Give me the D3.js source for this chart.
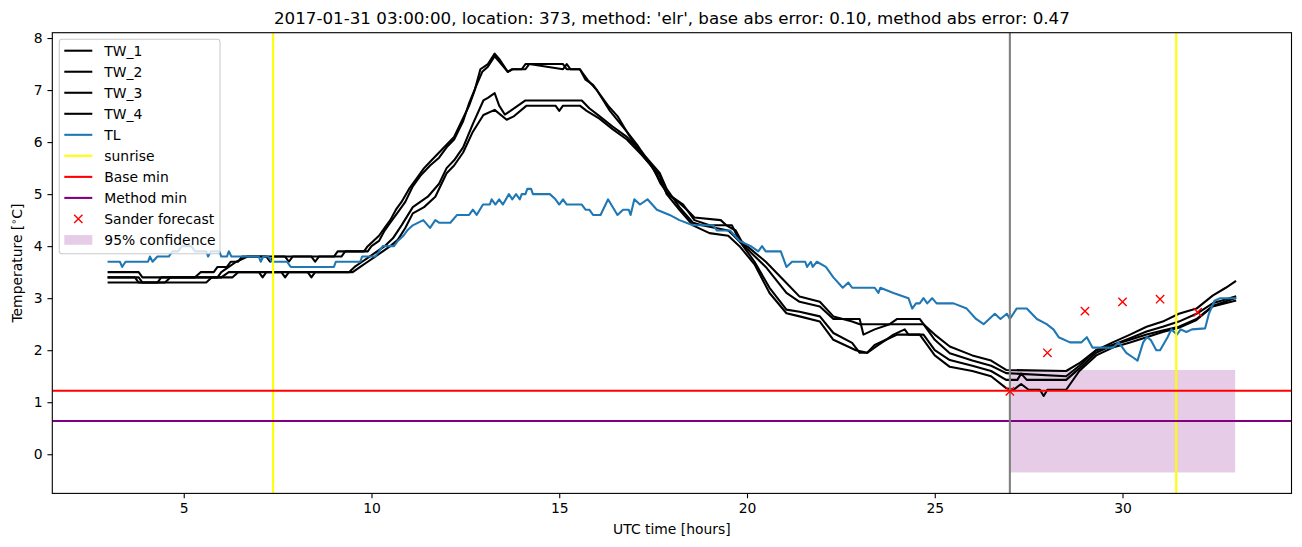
<!DOCTYPE html>
<html>
<head>
<meta charset="utf-8">
<script src="https://cdn.jsdelivr.net/npm/d3@7"></script>
<style>
  html, body { margin: 0; padding: 0; background: #fff; }
  svg { display: block; font-family: "DejaVu Sans", sans-serif; }
</style>
</head>
<body>
<svg id="chart" width="1302" height="547"></svg>
<script>
// ---------------- data (hours UTC, temperature °C) ----------------
const tw1 = [[3,3.5],[3.8,3.5],[3.9,3.4],[5.3,3.4],[5.45,3.5],[5.8,3.5],[5.9,3.6],[6.15,3.6],[6.25,3.7],[6.45,3.7],[6.55,3.8],[7.7,3.8],[7.8,3.7],[7.9,3.8],[9.0,3.8],[9.1,3.9],[9.8,3.9],[9.9,4.0],[10.05,4.1],[10.2,4.2],[10.35,4.35],[10.5,4.5],[10.65,4.7],[10.8,4.85],[11.0,5.1],[11.2,5.3],[11.4,5.5],[11.6,5.65],[11.8,5.8],[12.0,5.95],[12.2,6.1],[12.4,6.4],[12.6,6.7],[12.75,7.0],[12.9,7.4],[13.1,7.5],[13.28,7.7],[13.4,7.6],[13.63,7.35],[13.75,7.4],[14.0,7.4],[14.1,7.5],[15.1,7.5],[15.2,7.4],[15.55,7.4],[15.7,7.2],[15.9,7.1],[16.1,6.9],[16.3,6.7],[16.55,6.5],[16.8,6.2],[17.07,5.95],[17.4,5.6],[17.68,5.27],[17.86,5.02],[18.2,4.83],[18.4,4.7],[18.6,4.55],[19.3,4.5],[19.45,4.4],[19.7,4.3],[19.85,4.1],[20.0,4.0],[20.5,3.7],[21.05,3.29],[21.4,3.03],[21.94,2.93],[22.3,2.65],[22.8,2.55],[23.0,2.5],[24.7,2.5],[25.0,2.3],[25.4,2.07],[26.0,1.9],[26.5,1.8],[26.9,1.62],[28.5,1.6],[28.85,1.75],[29.3,2.0],[29.74,2.15],[30.2,2.3],[30.64,2.45],[31.07,2.55],[31.5,2.7],[31.97,2.8],[32.4,3.05],[32.75,3.2],[33.0,3.32]];
const tw2 = [[3,3.4],[3.7,3.4],[3.8,3.3],[4.3,3.3],[4.4,3.4],[5.9,3.4],[6.0,3.5],[6.2,3.6],[6.4,3.7],[6.7,3.8],[7.2,3.8],[7.3,3.7],[7.4,3.8],[8.4,3.8],[8.5,3.7],[8.6,3.8],[9.2,3.8],[9.3,3.9],[9.9,3.9],[10.0,4.0],[10.2,4.1],[10.35,4.3],[10.5,4.45],[10.7,4.65],[10.9,4.85],[11.1,5.15],[11.3,5.35],[11.56,5.55],[11.8,5.7],[12.0,5.9],[12.2,6.05],[12.44,6.4],[12.6,6.75],[12.8,7.1],[12.95,7.35],[13.1,7.45],[13.28,7.65],[13.4,7.55],[13.63,7.35],[13.75,7.4],[14.1,7.4],[14.2,7.5],[15.1,7.4],[15.2,7.5],[15.3,7.4],[15.55,7.4],[15.75,7.2],[16.0,7.0],[16.35,6.6],[16.8,6.2],[17.1,5.85],[17.5,5.5],[17.7,5.2],[17.9,5.0],[18.3,4.8],[18.6,4.5],[19.0,4.4],[19.6,4.4],[19.8,4.1],[20.0,3.95],[20.5,3.6],[21.05,3.1],[21.4,2.93],[21.94,2.84],[22.3,2.6],[23.0,2.6],[23.1,2.3],[23.4,2.4],[23.8,2.5],[24.0,2.6],[24.6,2.6],[25.0,2.2],[25.4,1.94],[26.0,1.8],[26.5,1.7],[26.9,1.56],[28.5,1.5],[28.85,1.7],[29.3,2.0],[29.74,2.1],[30.2,2.23],[30.64,2.36],[31.07,2.45],[31.5,2.55],[31.97,2.7],[32.4,2.9],[33.0,3.03]];
const tw3 = [[3,3.4],[3.8,3.4],[3.9,3.3],[5.6,3.3],[5.75,3.4],[6.3,3.4],[6.45,3.5],[7.6,3.5],[7.7,3.4],[7.8,3.5],[9.4,3.5],[9.55,3.6],[9.75,3.7],[9.95,3.8],[10.15,3.9],[10.35,4.0],[10.57,4.15],[10.8,4.4],[11.1,4.75],[11.3,4.85],[11.5,4.95],[11.8,5.2],[12.0,5.5],[12.2,5.65],[12.44,5.9],[12.7,6.35],[12.98,6.8],[13.1,6.85],[13.28,6.94],[13.4,6.7],[13.55,6.53],[13.7,6.6],[13.9,6.7],[14.1,6.8],[15.6,6.8],[15.8,6.65],[16.07,6.5],[16.42,6.3],[16.8,6.1],[17.2,5.8],[17.68,5.4],[17.86,5.1],[18.2,4.75],[18.56,4.45],[18.8,4.4],[19.5,4.3],[19.65,4.2],[19.85,4.05],[20.2,3.7],[20.6,3.2],[21.05,2.78],[21.4,2.74],[21.94,2.65],[22.3,2.33],[22.8,2.14],[23.0,1.95],[23.2,1.95],[23.4,2.1],[23.7,2.2],[23.9,2.3],[24.2,2.4],[24.3,2.3],[24.7,2.3],[25.0,2.0],[25.4,1.81],[26.0,1.7],[26.5,1.6],[26.9,1.43],[27.2,1.43],[27.3,1.55],[27.45,1.43],[28.5,1.43],[28.85,1.65],[29.3,1.95],[29.74,2.1],[30.2,2.2],[30.64,2.3],[31.07,2.38],[31.5,2.45],[31.97,2.6],[32.4,2.85],[33.0,3.0]];
const tw4 = [[3,3.3],[4.5,3.3],[4.65,3.4],[6.0,3.4],[6.2,3.5],[7.0,3.5],[7.1,3.4],[7.2,3.5],[8.3,3.5],[8.4,3.4],[8.5,3.5],[9.5,3.5],[9.7,3.6],[9.9,3.7],[10.1,3.8],[10.3,3.9],[10.5,4.0],[10.7,4.12],[10.9,4.35],[11.1,4.63],[11.4,4.75],[11.7,4.95],[12.0,5.4],[12.2,5.55],[12.44,5.8],[12.7,6.2],[12.98,6.52],[13.28,6.62],[13.6,6.43],[13.8,6.5],[14.13,6.7],[14.9,6.7],[15.0,6.6],[15.1,6.7],[15.55,6.7],[15.73,6.6],[16.07,6.45],[16.42,6.25],[16.8,6.05],[17.2,5.75],[17.68,5.35],[17.86,5.0],[18.2,4.7],[18.56,4.4],[19.0,4.25],[19.5,4.2],[19.8,4.0],[20.2,3.65],[20.6,3.1],[21.05,2.71],[21.4,2.65],[21.94,2.55],[22.3,2.2],[22.9,2.0],[23.2,1.95],[23.5,2.1],[23.7,2.2],[24.0,2.3],[24.6,2.3],[25.0,1.9],[25.4,1.68],[26.0,1.6],[26.5,1.5],[26.9,1.27],[27.1,1.24],[27.3,1.35],[27.5,1.24],[27.8,1.24],[27.9,1.12],[28.0,1.24],[28.5,1.24],[28.85,1.6],[29.3,1.9],[29.74,2.05],[30.2,2.15],[30.64,2.25],[31.07,2.35],[31.5,2.43],[31.97,2.58],[32.4,2.84],[33.0,2.95]];
const tl = [[3,3.7],[3.3,3.7],[3.36,3.6],[3.45,3.7],[4.05,3.7],[4.1,3.8],[4.17,3.7],[4.3,3.8],[4.6,3.8],[4.7,3.9],[4.85,3.9],[4.95,4.0],[5.2,4.0],[5.3,3.9],[5.6,3.9],[5.65,3.8],[5.72,3.9],[5.95,3.9],[6.0,3.8],[6.15,3.8],[6.2,3.9],[6.27,3.8],[7.0,3.8],[7.05,3.7],[7.12,3.8],[7.25,3.8],[7.35,3.7],[7.75,3.7],[7.85,3.6],[9.0,3.6],[9.05,3.7],[9.7,3.7],[9.75,3.8],[10.1,3.8],[10.2,3.9],[10.3,4.0],[10.6,4.0],[10.7,4.1],[10.85,4.2],[10.95,4.3],[11.1,4.4],[11.38,4.5],[11.5,4.4],[11.56,4.35],[11.7,4.5],[11.8,4.45],[12.1,4.45],[12.28,4.6],[12.6,4.6],[12.7,4.7],[12.8,4.6],[12.97,4.8],[13.15,4.8],[13.2,4.9],[13.3,4.8],[13.4,4.9],[13.5,4.8],[13.66,5.0],[13.75,4.9],[13.85,5.0],[13.95,4.9],[14.0,5.0],[14.1,5.0],[14.15,5.1],[14.25,5.1],[14.3,5.0],[14.75,5.0],[14.9,4.9],[15.0,4.8],[15.1,4.9],[15.2,4.8],[15.6,4.8],[15.7,4.7],[15.8,4.7],[15.9,4.6],[16.1,4.6],[16.3,4.9],[16.55,4.6],[16.7,4.7],[16.85,4.7],[16.9,4.6],[17.0,4.9],[17.15,4.8],[17.35,4.9],[17.6,4.7],[17.94,4.6],[18.2,4.5],[18.56,4.4],[19.1,4.4],[19.2,4.3],[19.55,4.3],[19.8,4.1],[20.1,4.0],[20.3,3.9],[20.4,4.0],[20.5,3.9],[20.9,3.9],[21.05,3.6],[21.2,3.7],[21.55,3.7],[21.6,3.6],[21.7,3.7],[21.75,3.6],[21.86,3.7],[22.1,3.6],[22.3,3.4],[22.55,3.2],[22.7,3.3],[22.8,3.2],[23.4,3.2],[23.5,3.1],[23.55,3.2],[23.9,3.1],[24.3,3.0],[24.4,2.8],[24.5,2.9],[24.6,2.9],[24.7,3.0],[24.8,2.9],[24.93,3.0],[25.05,2.9],[25.5,2.9],[25.85,2.8],[26.1,2.6],[26.3,2.5],[26.45,2.6],[26.6,2.7],[26.75,2.6],[26.92,2.7],[27.0,2.6],[27.18,2.8],[27.45,2.8],[27.72,2.6],[27.98,2.5],[28.16,2.4],[28.3,2.25],[28.6,2.15],[28.9,2.15],[29.05,2.25],[29.2,2.05],[29.75,2.05],[29.9,2.15],[30.1,1.95],[30.3,1.85],[30.4,1.8],[30.55,2.15],[30.65,2.25],[30.75,2.2],[30.9,2.0],[31.0,2.0],[31.2,2.25],[31.3,2.4],[31.45,2.3],[31.55,2.4],[31.7,2.35],[31.85,2.4],[32.2,2.42],[32.3,2.7],[32.45,2.95],[32.6,3.0],[33.0,3.0]];

const forecastHours = [27, 28, 29, 30, 31, 32];
const forecastValues = [1.21, 1.95, 2.75, 2.93, 2.98, 2.73];

const sunriseHours = [7.38, 31.43];
const nowHour = 27;
const baseMin = 1.22;
const methodMin = 0.64;
const confidence = { x0: 27, x1: 33, lo: -0.35, hi: 1.62 };

const xTicks = [5, 10, 15, 20, 25, 30];
const yTicks = [0, 1, 2, 3, 4, 5, 6, 7, 8];

const titleText = "2017-01-31 03:00:00, location: 373, method: 'elr', base abs error: 0.10, method abs error: 0.47";

// ---------------- layout ----------------
const svg = d3.select("#chart");
const M = { left: 52.3, right: 1291.5, top: 32.7, bottom: 493.4 };
const x = d3.scaleLinear().domain([1.5, 34.5]).range([M.left, M.right]);
const y = d3.scaleLinear().domain([-0.7525, 8.1025]).range([M.bottom, M.top]);
const FS = 13.9;
const LW = 2.08;

svg.append("defs").append("clipPath").attr("id", "clip")
  .append("rect").attr("x", M.left).attr("y", M.top)
  .attr("width", M.right - M.left).attr("height", M.bottom - M.top);

const plot = svg.append("g").attr("clip-path", "url(#clip)");

// confidence band
plot.append("rect")
  .attr("x", x(confidence.x0)).attr("width", x(confidence.x1) - x(confidence.x0))
  .attr("y", y(confidence.hi)).attr("height", y(confidence.lo) - y(confidence.hi))
  .attr("fill", "purple").attr("fill-opacity", 0.2);

const line = d3.line().x(d => x(d[0])).y(d => y(d[1]));
const series = [
  { name: "TW_1", data: tw1, color: "#000000" },
  { name: "TW_2", data: tw2, color: "#000000" },
  { name: "TW_3", data: tw3, color: "#000000" },
  { name: "TW_4", data: tw4, color: "#000000" },
  { name: "TL", data: tl, color: "#1f77b4" }
];
series.forEach(s => {
  plot.append("path").datum(s.data).attr("d", line)
    .attr("fill", "none").attr("stroke", s.color).attr("stroke-width", LW)
    .attr("stroke-linejoin", "round").attr("stroke-linecap", "square");
});

// sunrise lines
sunriseHours.forEach(h => {
  plot.append("line").attr("x1", x(h)).attr("x2", x(h)).attr("y1", M.top).attr("y2", M.bottom)
    .attr("stroke", "#ffff00").attr("stroke-width", LW);
});
// base / method min
plot.append("line").attr("x1", M.left).attr("x2", M.right).attr("y1", y(baseMin)).attr("y2", y(baseMin))
  .attr("stroke", "#ff0000").attr("stroke-width", LW);
plot.append("line").attr("x1", M.left).attr("x2", M.right).attr("y1", y(methodMin)).attr("y2", y(methodMin))
  .attr("stroke", "#800080").attr("stroke-width", LW);
// now line
plot.append("line").attr("x1", x(nowHour)).attr("x2", x(nowHour)).attr("y1", M.top).attr("y2", M.bottom)
  .attr("stroke", "#808080").attr("stroke-width", LW);

// forecast markers
const mk = 4.17;
forecastHours.forEach((h, i) => {
  const cx = x(h), cy = y(forecastValues[i]);
  plot.append("path")
    .attr("d", `M${cx - mk},${cy - mk}L${cx + mk},${cy + mk}M${cx - mk},${cy + mk}L${cx + mk},${cy - mk}`)
    .attr("stroke", "#ff0000").attr("stroke-width", 1.39).attr("fill", "none");
});

// axes
const xAxis = d3.axisBottom(x).tickValues(xTicks).tickSize(4.86).tickPadding(4.86).tickFormat(d3.format("d"));
const yAxis = d3.axisLeft(y).tickValues(yTicks).tickSize(4.86).tickPadding(4.86).tickFormat(d3.format("d"));
const gx = svg.append("g").attr("transform", `translate(0,${M.bottom})`).call(xAxis);
const gy = svg.append("g").attr("transform", `translate(${M.left},0)`).call(yAxis);
[gx, gy].forEach(g => {
  g.select(".domain").remove();
  g.selectAll("text").attr("font-size", FS).attr("font-family", "DejaVu Sans").attr("fill", "#000");
  g.selectAll("line").attr("stroke", "#000").attr("stroke-width", 1.1);
});

// frame
svg.append("rect").attr("x", M.left).attr("y", M.top)
  .attr("width", M.right - M.left).attr("height", M.bottom - M.top)
  .attr("fill", "none").attr("stroke", "#000").attr("stroke-width", 1.1);

// title and labels
const cxMid = (M.left + M.right) / 2;
svg.append("text").attr("x", cxMid).attr("y", 24).attr("text-anchor", "middle")
  .attr("font-size", 16.7).text(titleText);
svg.append("text").attr("x", cxMid).attr("y", 534).attr("text-anchor", "middle")
  .attr("font-size", FS).text("UTC time [hours]");
const yl = svg.append("text").attr("transform", `translate(22,${(M.top + M.bottom) / 2}) rotate(-90)`)
  .attr("text-anchor", "middle").attr("font-size", FS);
yl.append("tspan").text("Temperature [");
yl.append("tspan").attr("font-size", FS * 0.7).attr("dy", -5).text("\u2218");
yl.append("tspan").attr("dy", 5).text("C]");

// legend
const legendItems = [
  { label: "TW_1", type: "line", color: "#000000" },
  { label: "TW_2", type: "line", color: "#000000" },
  { label: "TW_3", type: "line", color: "#000000" },
  { label: "TW_4", type: "line", color: "#000000" },
  { label: "TL", type: "line", color: "#1f77b4" },
  { label: "sunrise", type: "line", color: "#ffff00" },
  { label: "Base min", type: "line", color: "#ff0000" },
  { label: "Method min", type: "line", color: "#800080" },
  { label: "Sander forecast", type: "marker", color: "#ff0000" },
  { label: "95% confidence", type: "patch", color: "purple" }
];
const lg = svg.append("g");
lg.append("rect").attr("x", 59.3).attr("y", 39.3).attr("width", 160.7).attr("height", 214.5)
  .attr("rx", 2.8).attr("fill", "#fff").attr("fill-opacity", 0.8)
  .attr("stroke", "#cccccc").attr("stroke-width", 1.1);
legendItems.forEach((it, i) => {
  const cy = 50.7 + i * 21.03;
  if (it.type === "line") {
    lg.append("line").attr("x1", 64.3).attr("x2", 92.3).attr("y1", cy).attr("y2", cy)
      .attr("stroke", it.color).attr("stroke-width", LW);
  } else if (it.type === "marker") {
    const cx = 78.3;
    lg.append("path")
      .attr("d", `M${cx - mk},${cy - mk}L${cx + mk},${cy + mk}M${cx - mk},${cy + mk}L${cx + mk},${cy - mk}`)
      .attr("stroke", it.color).attr("stroke-width", 1.39);
  } else {
    lg.append("rect").attr("x", 64.3).attr("y", cy - 4.9).attr("width", 28).attr("height", 9.7)
      .attr("fill", it.color).attr("fill-opacity", 0.2);
  }
  lg.append("text").attr("x", 104.3).attr("y", cy + 5).attr("font-size", FS).text(it.label);
});
</script>
</body>
</html>
